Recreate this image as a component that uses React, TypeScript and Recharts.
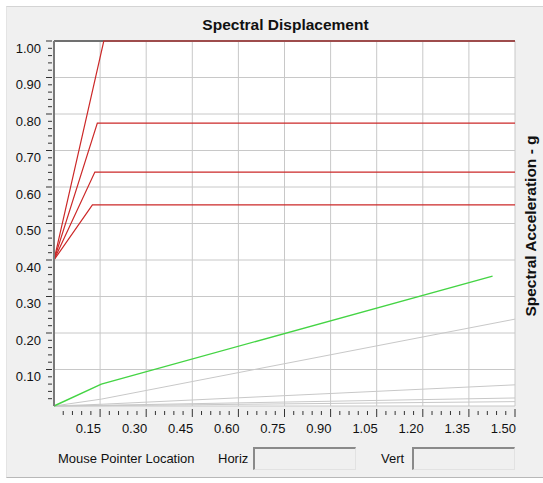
import { LineChart, Line, XAxis, YAxis, CartesianGrid } from 'recharts';

// tick values
const xMajorTicks = [0.15, 0.3, 0.45, 0.6, 0.75, 0.9, 1.05, 1.2, 1.35, 1.5];
const yMajorTicks = [0.1, 0.2, 0.3, 0.4, 0.5, 0.6, 0.7, 0.8, 0.9, 1.0];
const xGridValues = [0.15, 0.3, 0.45, 0.6, 0.75, 0.9, 1.05, 1.2, 1.35, 1.5];
const yGridValues = [0, 0.1, 0.2, 0.3, 0.4, 0.5, 0.6, 0.7, 0.8, 0.9];

// minor ticks: 5 steps between each major
const xTicks: number[] = [];
for (let i = 1; i <= 50; i++) xTicks.push(Math.round(i * 3) / 100);
const yTicks: number[] = [];
for (let i = 1; i <= 50; i++) yTicks.push(Math.round(i * 2) / 100);

// red design spectra
const redTop = [{ x: 0, y: 0.4 }, { x: 0.162, y: 1.0 }, { x: 1.5, y: 1.0 }];
const red2 = [{ x: 0, y: 0.4 }, { x: 0.141, y: 0.775 }, { x: 1.5, y: 0.775 }];
const red3 = [{ x: 0, y: 0.4 }, { x: 0.133, y: 0.641 }, { x: 1.5, y: 0.641 }];
const red4 = [{ x: 0, y: 0.4 }, { x: 0.125, y: 0.551 }, { x: 1.5, y: 0.551 }];

// capacity curve
const green = [{ x: 0, y: 0 }, { x: 0.154, y: 0.06 }, { x: 1.427, y: 0.356 }];

// grey period lines
const grey1 = [{ x: 0, y: 0 }, { x: 0.155, y: 0.019 }, { x: 1.5, y: 0.238 }];
const grey2 = [{ x: 0, y: 0 }, { x: 0.16, y: 0.005 }, { x: 1.5, y: 0.058 }];
const grey3 = [{ x: 0, y: 0 }, { x: 0.16, y: 0.002 }, { x: 1.5, y: 0.022 }];
const grey4 = [{ x: 0, y: 0 }, { x: 0.16, y: 0.001 }, { x: 1.5, y: 0.012 }];

const FONT = '"Liberation Sans", Arial, sans-serif';

const isXMajor = (v: number) => xMajorTicks.some((m) => Math.abs(m - v) < 1e-6);
const isYMajor = (v: number) => yMajorTicks.some((m) => Math.abs(m - v) < 1e-6);

const XTick = (props: any) => {
  const { x, y, payload } = props;
  const major = isXMajor(payload.value);
  return (
    <g>
      <line x1={x} x2={x} y1={y + (major ? 3 : 5)} y2={y + (major ? 11 : 9)} stroke="#333" strokeWidth={1} />
      {major && (
        <text x={x + 1} y={y + 27} textAnchor="end" fontSize={13} fontFamily={FONT} fill="#111">
          {payload.value.toFixed(2)}
        </text>
      )}
    </g>
  );
};

const YTick = (props: any) => {
  const { x, y, payload } = props;
  const major = isYMajor(payload.value);
  return (
    <g>
      <line x1={x - (major ? 8 : 6)} x2={x - 2} y1={y} y2={y} stroke="#333" strokeWidth={1} />
      {major && (
        <text x={x - 13} y={y + 11.5} textAnchor="end" fontSize={13} fontFamily={FONT} fill="#111">
          {payload.value.toFixed(2)}
        </text>
      )}
    </g>
  );
};

const Box = ({ left }: { left: number }) => (
  <div
    style={{
      position: 'absolute',
      left,
      top: 447,
      width: 100,
      height: 20,
      background: '#f0f0f0',
      borderTop: '2px solid #8a8a8a',
      borderLeft: '2px solid #8a8a8a',
      borderRight: '1px solid #e2e2e2',
      borderBottom: '1px solid #e2e2e2',
    }}
  />
);

export default function App() {
  const red = '#cc2828';
  const grey = '#c8c8c8';
  return (
    <div style={{ position: 'fixed', left: 0, top: 0, width: 543, height: 483, background: '#fff', fontFamily: FONT }}>
      <div
        style={{
          position: 'absolute',
          left: 6,
          top: 6,
          width: 537,
          height: 472,
          background: '#f0f0f0',
          borderTop: '1px solid #d4d4d4',
          borderLeft: '1px solid #e4e4e4',
          borderBottom: '1px solid #b8b8b8',
          boxSizing: 'border-box',
        }}
      />
      <div style={{ position: 'absolute', left: 0, top: 0 }}>
        <LineChart width={543} height={483} margin={{ top: 41, right: 28, left: 14, bottom: 47 }}>
          <CartesianGrid
            stroke="#c8c8c8"
            fill="#ffffff"
            fillOpacity={1}
            horizontalValues={yGridValues}
            verticalValues={xGridValues}
          />
          <CartesianGrid stroke="#707070" strokeWidth={2} horizontalValues={[1]} vertical={false} />
          <XAxis
            type="number"
            dataKey="x"
            domain={[0, 1.5]}
            ticks={xTicks}
            interval={0}
            height={30}
            tickSize={0}
            tickMargin={0}
            axisLine={false}
            tickLine={false}
            tick={<XTick />}
            allowDuplicatedCategory={false}
          />
          <YAxis
            type="number"
            dataKey="y"
            domain={[0, 1]}
            ticks={yTicks}
            interval={0}
            width={40}
            tickSize={0}
            tickMargin={0}
            axisLine={{ stroke: '#7a7a7a', strokeWidth: 2 }}
            tickLine={false}
            tick={<YTick />}
          />
          <Line data={grey4} dataKey="y" stroke={grey} strokeWidth={1} dot={false} isAnimationActive={false} />
          <Line data={grey3} dataKey="y" stroke={grey} strokeWidth={1} dot={false} isAnimationActive={false} />
          <Line data={grey2} dataKey="y" stroke={grey} strokeWidth={1} dot={false} isAnimationActive={false} />
          <Line data={grey1} dataKey="y" stroke={grey} strokeWidth={1} dot={false} isAnimationActive={false} />
          <Line data={green} dataKey="y" stroke="#44d444" strokeWidth={1.4} dot={false} isAnimationActive={false} />
          <Line data={red4} dataKey="y" stroke={red} strokeWidth={1.2} dot={false} isAnimationActive={false} />
          <Line data={red3} dataKey="y" stroke={red} strokeWidth={1.2} dot={false} isAnimationActive={false} />
          <Line data={red2} dataKey="y" stroke={red} strokeWidth={1.2} dot={false} isAnimationActive={false} />
          <Line data={redTop} dataKey="y" stroke={red} strokeWidth={1.2} dot={false} isAnimationActive={false} />
        </LineChart>
      </div>
      <svg width={543} height={483} style={{ position: 'absolute', left: 0, top: 0, pointerEvents: 'none' }}>
        <text x={285.5} y={30} textAnchor="middle" fontSize={15.5} fontWeight="bold" fontFamily={FONT} fill="#111">
          Spectral Displacement
        </text>
        <text
          x={0}
          y={0}
          transform="translate(536,226) rotate(-90)"
          textAnchor="middle"
          fontSize={15.5}
          fontWeight="bold"
          fontFamily={FONT}
          fill="#111"
        >
          Spectral Acceleration - g
        </text>
        <text x={58} y={463} fontSize={13} fontFamily={FONT} fill="#111">
          Mouse Pointer Location
        </text>
        <text x={218} y={463} fontSize={13} fontFamily={FONT} fill="#111">
          Horiz
        </text>
        <text x={381} y={463} fontSize={13} fontFamily={FONT} fill="#111">
          Vert
        </text>
      </svg>
      <Box left={253} />
      <Box left={412} />
    </div>
  );
}
